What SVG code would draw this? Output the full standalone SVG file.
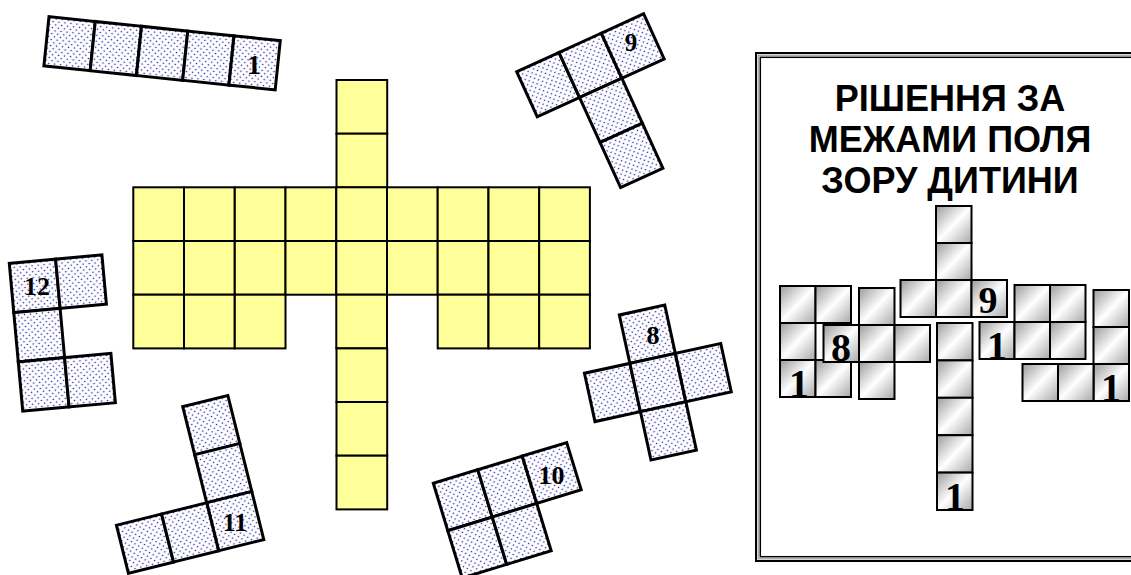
<svg xmlns="http://www.w3.org/2000/svg" width="1131" height="575" viewBox="0 0 1131 575">
<defs>
<pattern id="dots" patternUnits="userSpaceOnUse" width="6" height="6">
<rect width="6" height="6" fill="#ffffff"/>
<circle cx="1.5" cy="1.5" r="0.8" fill="#1c1ca8"/>
<circle cx="4.5" cy="4.5" r="0.8" fill="#1c1ca8"/>
</pattern>
<linearGradient id="metal" x1="0" y1="0" x2="1" y2="1">
<stop offset="0" stop-color="#9a9a9a"/>
<stop offset="0.5" stop-color="#ffffff"/>
<stop offset="1" stop-color="#a8a8a8"/>
</linearGradient>
<style>
.y{fill:#FFFF99;stroke:#000;stroke-width:2}
.p{fill:url(#dots);stroke:#000;stroke-width:3}
.g{fill:url(#metal);stroke:#000;stroke-width:2}
.n{font-family:"Liberation Serif","Times New Roman",serif;font-weight:bold;fill:#000;text-anchor:middle}
.t{font-family:"Liberation Sans",Arial,sans-serif;font-weight:bold;font-size:36px;fill:#000;text-anchor:middle}
</style>
</defs>
<rect width="1131" height="575" fill="#ffffff"/>

<g id="board">
<rect class="y" x="336.5" y="80" width="50.7" height="53.7"/>
<rect class="y" x="336.5" y="133.7" width="50.7" height="53.7"/>
<rect class="y" x="133.3" y="187.3" width="50.7" height="53.7"/>
<rect class="y" x="184" y="187.3" width="50.7" height="53.7"/>
<rect class="y" x="234.8" y="187.3" width="50.7" height="53.7"/>
<rect class="y" x="285.5" y="187.3" width="50.7" height="53.7"/>
<rect class="y" x="336.3" y="187.3" width="50.7" height="53.7"/>
<rect class="y" x="387" y="187.3" width="50.7" height="53.7"/>
<rect class="y" x="437.7" y="187.3" width="50.7" height="53.7"/>
<rect class="y" x="488.5" y="187.3" width="50.7" height="53.7"/>
<rect class="y" x="539.2" y="187.3" width="50.7" height="53.7"/>
<rect class="y" x="133.3" y="241" width="50.7" height="53.7"/>
<rect class="y" x="184" y="241" width="50.7" height="53.7"/>
<rect class="y" x="234.8" y="241" width="50.7" height="53.7"/>
<rect class="y" x="285.5" y="241" width="50.7" height="53.7"/>
<rect class="y" x="336.3" y="241" width="50.7" height="53.7"/>
<rect class="y" x="387" y="241" width="50.7" height="53.7"/>
<rect class="y" x="437.7" y="241" width="50.7" height="53.7"/>
<rect class="y" x="488.5" y="241" width="50.7" height="53.7"/>
<rect class="y" x="539.2" y="241" width="50.7" height="53.7"/>
<rect class="y" x="133.3" y="294.7" width="50.7" height="53.7"/>
<rect class="y" x="184" y="294.7" width="50.7" height="53.7"/>
<rect class="y" x="234.8" y="294.7" width="50.7" height="53.7"/>
<rect class="y" x="336.3" y="294.7" width="50.7" height="53.7"/>
<rect class="y" x="437.7" y="294.7" width="50.7" height="53.7"/>
<rect class="y" x="488.5" y="294.7" width="50.7" height="53.7"/>
<rect class="y" x="539.2" y="294.7" width="50.7" height="53.7"/>
<rect class="y" x="336.5" y="348.4" width="50.7" height="53.7"/>
<rect class="y" x="336.5" y="402" width="50.7" height="53.7"/>
<rect class="y" x="336.5" y="455.7" width="50.7" height="53.7"/>
</g>

<g id="piece-1">
<g transform="translate(49,16.7) rotate(5.9)">
<rect class="p" x="0" y="0" width="46.5" height="49.5"/>
<rect class="p" x="46.5" y="0" width="46.5" height="49.5"/>
<rect class="p" x="93" y="0" width="46.5" height="49.5"/>
<rect class="p" x="139.5" y="0" width="46.5" height="49.5"/>
<rect class="p" x="186" y="0" width="46.5" height="49.5"/>
</g>
<text class="n" x="254" y="74" font-size="28">1</text>
</g>

<g id="piece-9">
<g transform="translate(516.7,71.7) rotate(-24.5)">
<rect class="p" x="0" y="0" width="46.5" height="49.5"/>
<rect class="p" x="46.5" y="0" width="46.5" height="49.5"/>
<rect class="p" x="93" y="0" width="46.5" height="49.5"/>
<rect class="p" x="46.5" y="49.5" width="46.5" height="49.5"/>
<rect class="p" x="46.5" y="99" width="46.5" height="49.5"/>
</g>
<text class="n" x="631" y="51" font-size="25">9</text>
</g>

<g id="piece-12">
<g transform="translate(9.3,263.3) rotate(-5.2)">
<rect class="p" x="0" y="0" width="46.5" height="49.5"/>
<rect class="p" x="46.5" y="0" width="46.5" height="49.5"/>
<rect class="p" x="0" y="49.5" width="46.5" height="49.5"/>
<rect class="p" x="0" y="99" width="46.5" height="49.5"/>
<rect class="p" x="46.5" y="99" width="46.5" height="49.5"/>
</g>
<text class="n" x="37" y="295" font-size="26">12</text>
</g>

<g id="piece-11">
<g transform="translate(92.5,429.2) rotate(-14)">
<rect class="p" x="93" y="0" width="46.5" height="49.5"/>
<rect class="p" x="93" y="49.5" width="46.5" height="49.5"/>
<rect class="p" x="93" y="99" width="46.5" height="49.5"/>
<rect class="p" x="0" y="99" width="46.5" height="49.5"/>
<rect class="p" x="46.5" y="99" width="46.5" height="49.5"/>
</g>
<text class="n" x="235" y="531" font-size="26">11</text>
</g>

<g id="piece-10">
<g transform="translate(433.3,483.3) rotate(-17)">
<rect class="p" x="0" y="0" width="46.5" height="49.5"/>
<rect class="p" x="46.5" y="0" width="46.5" height="49.5"/>
<rect class="p" x="93" y="0" width="46.5" height="49.5"/>
<rect class="p" x="0" y="49.5" width="46.5" height="49.5"/>
<rect class="p" x="46.5" y="49.5" width="46.5" height="49.5"/>
</g>
<text class="n" x="551.5" y="484" font-size="26">10</text>
</g>

<g id="piece-8">
<g transform="translate(573.9,324.9) rotate(-12.3)">
<rect class="p" x="46.5" y="0" width="46.5" height="49.5"/>
<rect class="p" x="0" y="49.5" width="46.5" height="49.5"/>
<rect class="p" x="46.5" y="49.5" width="46.5" height="49.5"/>
<rect class="p" x="93" y="49.5" width="46.5" height="49.5"/>
<rect class="p" x="46.5" y="99" width="46.5" height="49.5"/>
</g>
<text class="n" x="653" y="344" font-size="26">8</text>
</g>

<g id="solution-panel">
<rect x="756" y="53" width="390" height="508" fill="none" stroke="#000" stroke-width="2"/>
<rect x="758.2" y="55.2" width="390" height="503.6" fill="none" stroke="#999" stroke-width="1.2"/>
<rect x="760.3" y="57.3" width="390" height="499.4" fill="none" stroke="#000" stroke-width="1.5"/>
<text class="t" x="950" y="111">РІШЕННЯ ЗА</text>
<text class="t" x="950" y="152">МЕЖАМИ ПОЛЯ</text>
<text class="t" x="950" y="193">ЗОРУ ДИТИНИ</text>
</g>

<g id="sol-9">
<rect class="g" x="936" y="206" width="35.5" height="37"/>
<rect class="g" x="936" y="243" width="35.5" height="37"/>
<rect class="g" x="900.5" y="280" width="35.5" height="37"/>
<rect class="g" x="936" y="280" width="35.5" height="37"/>
<rect class="g" x="971.5" y="280" width="35.5" height="37"/>
<text class="n" x="988" y="313" font-size="38">9</text>
</g>

<g id="sol-12">
<rect class="g" x="780" y="286" width="35.5" height="37"/>
<rect class="g" x="815.5" y="286" width="35.5" height="37"/>
<rect class="g" x="780" y="323" width="35.5" height="37"/>
<rect class="g" x="780" y="360" width="35.5" height="37"/>
<rect class="g" x="815.5" y="360" width="35.5" height="37"/>
<text class="n" x="799" y="397" font-size="40">1</text>
</g>

<g id="sol-8">
<rect class="g" x="859" y="288" width="35.5" height="37"/>
<rect class="g" x="823.5" y="325" width="35.5" height="37"/>
<rect class="g" x="859" y="325" width="35.5" height="37"/>
<rect class="g" x="894.5" y="325" width="35.5" height="37"/>
<rect class="g" x="859" y="362" width="35.5" height="37"/>
<text class="n" x="841" y="361" font-size="40">8</text>
</g>

<g id="sol-1">
<rect class="g" x="937" y="323" width="35.5" height="37.4"/>
<rect class="g" x="937" y="360.4" width="35.5" height="37.4"/>
<rect class="g" x="937" y="397.8" width="35.5" height="37.4"/>
<rect class="g" x="937" y="435.2" width="35.5" height="37.4"/>
<rect class="g" x="937" y="472.6" width="35.5" height="37.4"/>
<text class="n" x="955" y="510" font-size="40">1</text>
</g>

<g id="sol-10">
<rect class="g" x="979.5" y="322" width="35" height="37"/>
<rect class="g" x="1014.5" y="285" width="35.5" height="37"/>
<rect class="g" x="1050" y="285" width="35.5" height="37"/>
<rect class="g" x="1014.5" y="322" width="35.5" height="37"/>
<rect class="g" x="1050" y="322" width="35.5" height="37"/>
<text class="n" x="997" y="359" font-size="40">1</text>
</g>

<g id="sol-11">
<rect class="g" x="1093.5" y="290" width="35.5" height="37"/>
<rect class="g" x="1093.5" y="327" width="35.5" height="37"/>
<rect class="g" x="1093.5" y="364" width="35.5" height="37"/>
<rect class="g" x="1022.5" y="364" width="35.5" height="37"/>
<rect class="g" x="1058" y="364" width="35.5" height="37"/>
<text class="n" x="1111" y="401" font-size="40">1</text>
</g>
</svg>
